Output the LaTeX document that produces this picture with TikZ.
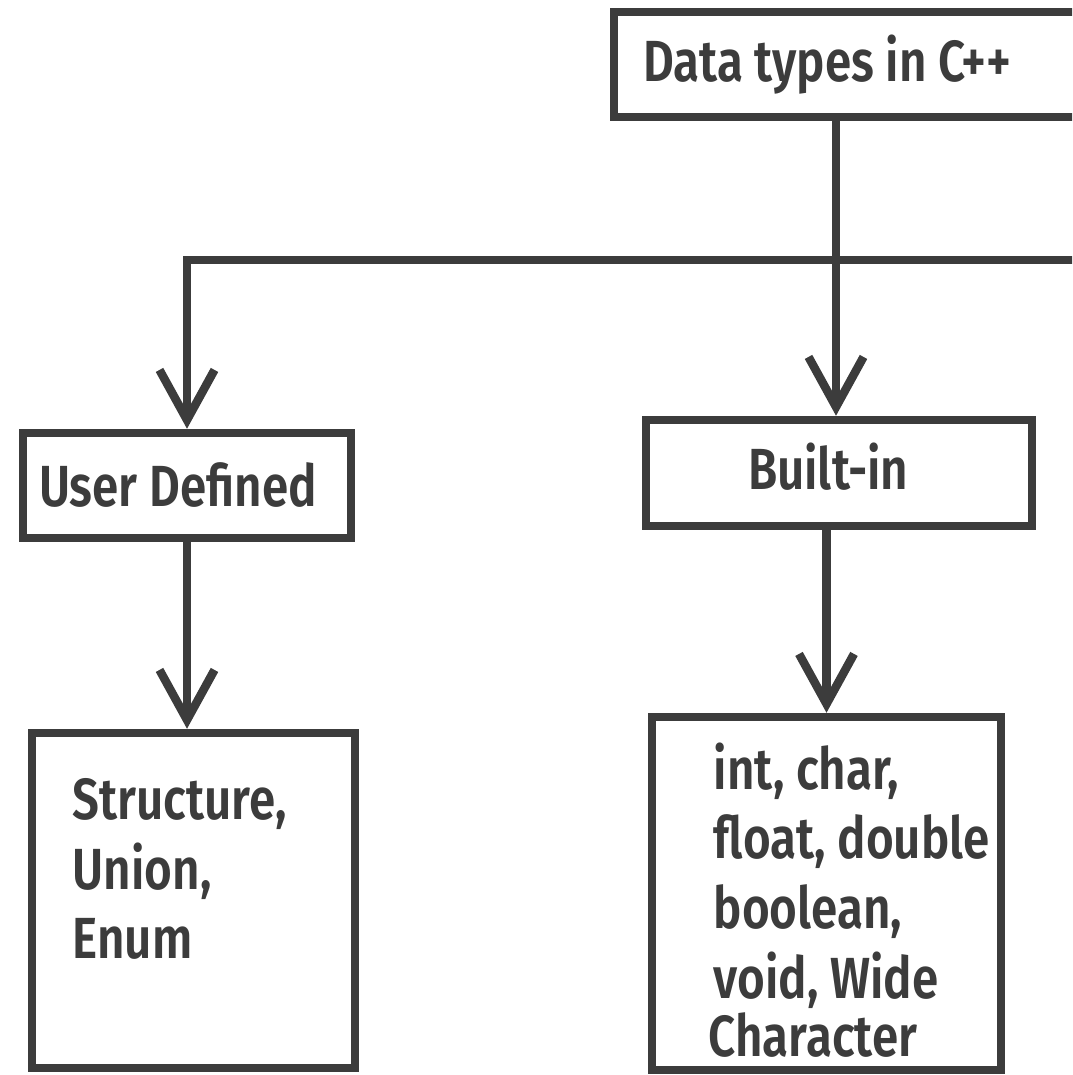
\documentclass[tikz,border=0pt]{standalone}
\usepackage{fontspec}
\IfFontExistsTF{Fira Sans SemiBold}
  {\setmainfont{Fira Sans SemiBold}[FakeStretch=0.82]}
  {\setmainfont{Fira Sans}[UprightFont={* Bold}, FakeStretch=0.8]}
\usetikzlibrary{positioning,arrows.meta}
\definecolor{ink}{HTML}{3C3C3C}

\begin{document}
\begin{tikzpicture}
  [
    box/.style={draw=ink, line width=0.085cm, rectangle, inner sep=0pt, text=ink,
      font=\fontsize{16.5}{20}\selectfont},
    boxtext/.style={text=ink, inner sep=0pt, align=flush left, anchor=north west,
      font=\fontsize{16.5}{19.8}\selectfont},
    line/.style={draw=ink, line width=0.085cm},
    arrow/.style={line, -{Straight Barb[length=0.5cm,width=0.55cm]}}
  ]

  % Seitenrand
  \useasboundingbox (0,0) rectangle (10.72,-10.75);
  \clip (0,0) rectangle (10.72,-10.75);

  \node[box, minimum width=5.16cm, minimum height=1.05cm, text width=4.58cm, align=flush left] (root) at (8.72,-0.645) {Data types in C++};

  \node[box, minimum width=3.28cm, minimum height=1.05cm, text width=2.96cm, align=flush left] (user) at (1.87,-4.855) {User Defined};
  \node[box, minimum width=3.86cm, minimum height=1.06cm, text width=1.82cm, text depth=0.14cm, align=flush left] (builtin) at (8.39,-4.73) {Built-in};

  \node[box, minimum width=3.23cm, minimum height=3.35cm] (userlist) at (1.935,-9.005) {};
  \node[boxtext] (userlist-text) at (0.72,-7.78) {Structure,\\Union,\\Enum};

  \node[box, minimum width=3.49cm, minimum height=3.53cm] (builtinlist) at (8.265,-8.935) {};
  \node[boxtext] (builtinlist-text) at (7.13,-7.42) {int, char,\\float, double\\boolean,\\void, Wide\\[-0.11cm]\hspace*{-0.05cm}Character};

  % Verzweigung
  \coordinate (split) at (8.36,-2.6);
  \coordinate (offpage) at (11,-2.6);

  \draw[line] (split |- root.south) -- (split);
  \draw[arrow] (offpage) -| (user.north);
  \draw[arrow] (split) -- (split |- builtin.north);
  \draw[arrow] (user.south) -- (user.south |- userlist.north);
  \draw[arrow] (builtinlist.north |- builtin.south) -- (builtinlist.north);
\end{tikzpicture}
\end{document}
